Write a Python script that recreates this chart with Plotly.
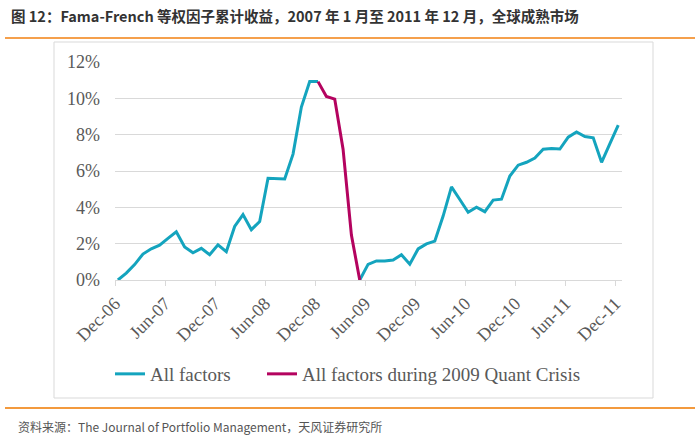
import plotly.graph_objects as go

# ---- data (cumulative return, %) ----
tick_labels = ["Dec-06", "Jun-07", "Dec-07", "Jun-08", "Dec-08", "Jun-09",
               "Dec-09", "Jun-10", "Dec-10", "Jun-11", "Dec-11"]

all_factors_pre = [0.0, 0.38, 0.85, 1.43, 1.72, 1.92, 2.29, 2.65, 1.82, 1.50,
                   1.74, 1.39, 1.94, 1.56, 2.95, 3.60, 2.77, 3.22, 5.60, 5.58,
                   5.56, 6.93, 9.52, 10.92, 10.92]
crisis = [10.92, 10.10, 9.96, 7.20, 2.47, 0.0]
all_factors_post = [0.0, 0.86, 1.05, 1.04, 1.10, 1.39, 0.87, 1.71, 1.99, 2.14,
                    3.52, 5.13, 4.43, 3.73, 4.01, 3.76, 4.40, 4.45, 5.72, 6.32,
                    6.48, 6.71, 7.20, 7.24, 7.21, 7.86, 8.15, 7.90, 7.83, 6.48,
                    7.51, 8.52]

series_all = all_factors_pre + [None] * (len(crisis) - 2) + all_factors_post
series_crisis = [None] * (len(all_factors_pre) - 1) + crisis + [None] * (len(all_factors_post) - 1)
n = len(series_all)
x_idx = [i + 0.35 for i in range(n)]

CYAN = "#14A4BE"
MAGENTA = "#B4035F"
GRID = "#D9D9D9"
TXT = "#595959"
SERIF = "Liberation Serif"

fig = go.Figure()
fig.add_trace(go.Scatter(x=x_idx, y=series_all, mode="lines", name="All factors",
                         line=dict(color=CYAN, width=3), connectgaps=False,
                         legendwidth=107))
fig.add_trace(go.Scatter(x=x_idx, y=series_crisis, mode="lines",
                         name="All factors during 2009 Quant Crisis",
                         line=dict(color=MAGENTA, width=3), connectgaps=False,
                         legendwidth=310))

W, H = 700, 438
L, R, T, B = 115, 78, 62, 158
pw, ph = W - L - R, H - T - B


def px(x):
    return (x - L) / pw


def py(y):
    return (H - B - y) / ph


fig.update_layout(
    width=W, height=H,
    margin=dict(l=L, r=R, t=T, b=B),
    paper_bgcolor="white", plot_bgcolor="white",
    font=dict(family=SERIF, size=18, color=TXT),
    showlegend=True,
    legend=dict(orientation="h", x=px(110), y=py(374), xanchor="left", yanchor="middle",
                font=dict(family=SERIF, size=19, color=TXT),
                bgcolor="rgba(0,0,0,0)"),
    xaxis=dict(range=[0, 60.8], tickvals=[6 * k for k in range(len(tick_labels))],
               ticktext=tick_labels, tickangle=-45, showgrid=False,
               showline=True, linecolor=GRID, linewidth=1,
               ticks="outside", ticklen=5, tickcolor=GRID,
               zeroline=False, tickfont=dict(family=SERIF, size=18, color=TXT)),
    yaxis=dict(range=[0, 12], dtick=2, ticksuffix="%", showgrid=True,
               gridcolor=GRID, gridwidth=1, zeroline=False, showline=False,
               ticks="", ticklabelstandoff=14,
               tickfont=dict(family=SERIF, size=18, color=TXT)),
)

shapes = [
    # outer chart box
    dict(type="rect", xref="paper", yref="paper", x0=px(54), x1=px(653),
         y0=py(398), y1=py(42), line=dict(color=GRID, width=1), layer="below"),
    # orange rules
    dict(type="line", xref="paper", yref="paper", x0=px(5), x1=px(695),
         y0=py(38), y1=py(38), line=dict(color="#F5A04C", width=2)),
    dict(type="line", xref="paper", yref="paper", x0=px(5), x1=px(695),
         y0=py(408), y1=py(408), line=dict(color="#F39A3E", width=2)),
]
fig.update_layout(shapes=shapes)

fig.add_annotation(
    text="<b>图 12：Fama-French 等权因子累计收益，2007 年 1 月至 2011 年 12 月，全球成熟市场</b>",
    xref="paper", yref="paper", x=px(9), y=py(16), xanchor="left", yanchor="middle",
    showarrow=False, font=dict(family="Noto Sans CJK SC", size=14.5, color="#333333"))
fig.add_annotation(
    text="资料来源：The Journal of Portfolio Management，天风证券研究所",
    xref="paper", yref="paper", x=px(16), y=py(426), xanchor="left", yanchor="middle",
    showarrow=False, font=dict(family="Noto Sans CJK SC", size=12, color="#555555"))

fig.write_html("out.html", config={"displayModeBar": False},
               post_script="document.body.style.margin='0';")
